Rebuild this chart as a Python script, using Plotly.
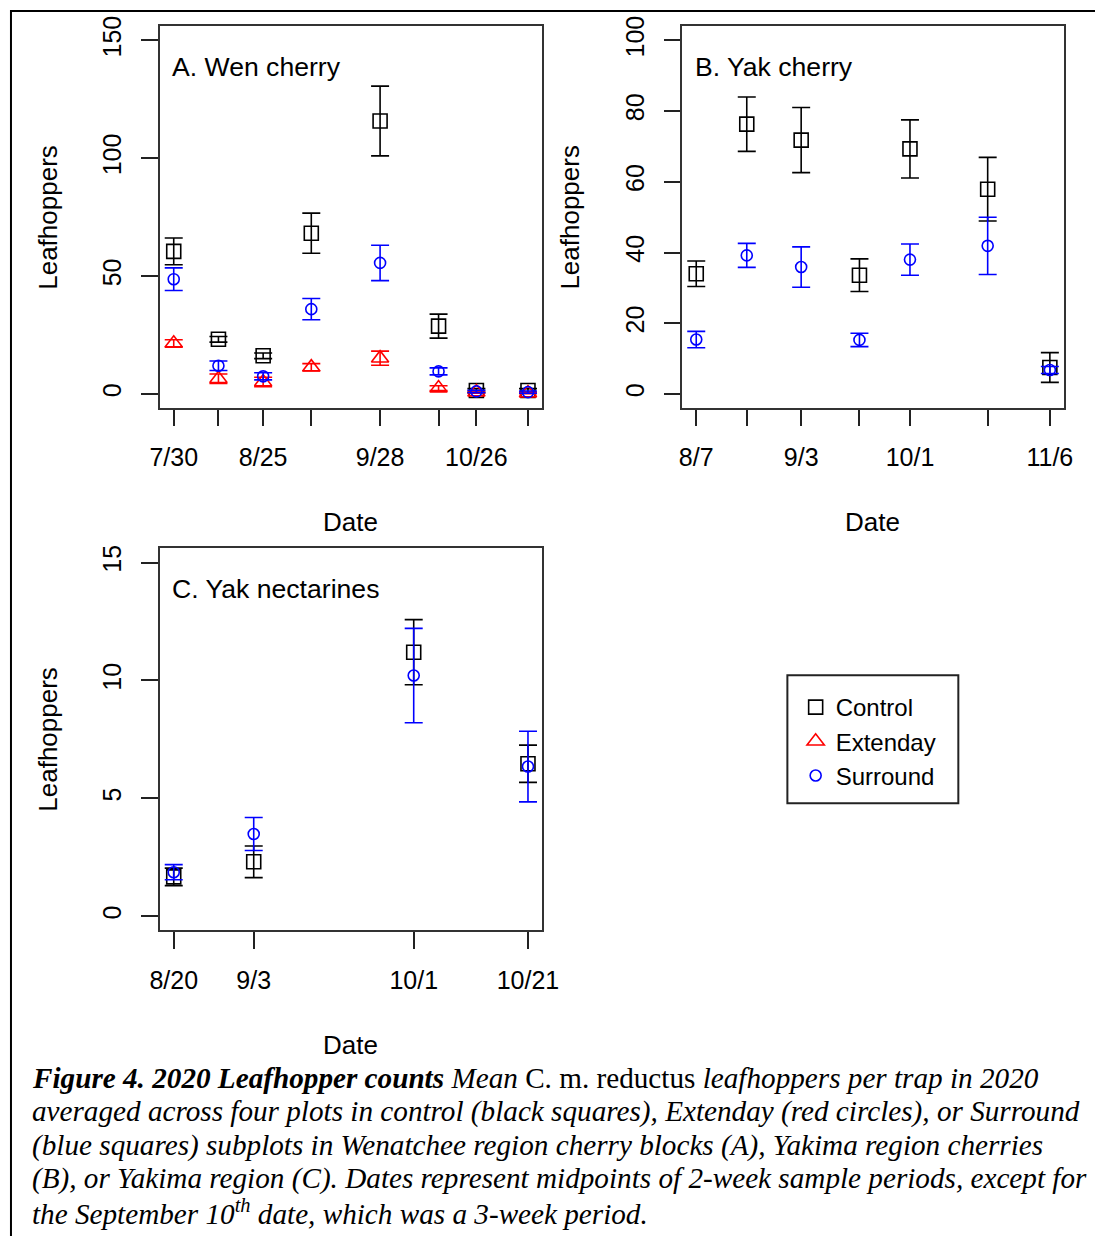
import plotly.graph_objects as go
import pandas as pd

# ---------------- data ----------------
# Panel A: Wenatchee cherry
a_dates = ["2020-07-30", "2020-08-12", "2020-08-25", "2020-09-08",
           "2020-09-28", "2020-10-15", "2020-10-26", "2020-11-10"]
a_label_dates = ["2020-07-30", "2020-08-25", "2020-09-28", "2020-10-26"]
a_labels = ["7/30", "8/25", "9/28", "10/26"]
a_control = [60.5, 23.2, 16.2, 68.2, 115.8, 28.8, 1.5, 1.5]
a_control_se = [5.7, 1.2, 1.2, 8.5, 14.8, 5.1, 0.8, 0.8]
a_extenday = [21.5, 6.5, 5.1, 11.4, 15.2, 2.5, 0.8, 0.4]
a_extenday_se = [1.5, 2.0, 2.0, 1.5, 3.0, 1.0, 0.5, 0.3]
a_surround = [48.7, 12.0, 7.5, 36.0, 55.6, 9.6, 1.1, 0.8]
a_surround_se = [4.8, 2.0, 1.5, 4.5, 7.5, 1.5, 0.5, 0.5]
a_ylim = [0, 150]
a_yticks = [0, 50, 100, 150]

# Panel B: Yakima cherry
b_dates = ["2020-08-07", "2020-08-20", "2020-09-03", "2020-09-18",
           "2020-10-01", "2020-10-21", "2020-11-06"]
b_label_dates = ["2020-08-07", "2020-09-03", "2020-10-01", "2020-11-06"]
b_labels = ["8/7", "9/3", "10/1", "11/6"]
b_control = [34.0, 76.3, 71.8, 33.6, 69.3, 57.9, 7.5]
b_control_se = [3.6, 7.7, 9.2, 4.6, 8.2, 9.0, 4.2]
b_surround = [15.4, 39.2, 35.9, 15.3, 38.0, 41.9, 6.8]
b_surround_se = [2.3, 3.4, 5.7, 1.9, 4.4, 8.1, 1.0]
b_ylim = [0, 100]
b_yticks = [0, 20, 40, 60, 80, 100]

# Panel C: Yakima nectarines
c_dates = ["2020-08-20", "2020-09-03", "2020-10-01", "2020-10-21"]
c_label_dates = ["2020-08-20", "2020-09-03", "2020-10-01", "2020-10-21"]
c_labels = ["8/20", "9/3", "10/1", "10/21"]
c_control = [1.67, 2.31, 11.2, 6.47]
c_control_se = [0.37, 0.67, 1.38, 0.79]
c_surround = [1.87, 3.49, 10.21, 6.35]
c_surround_se = [0.32, 0.70, 2.0, 1.5]
c_ylim = [0, 15]
c_yticks = [0, 5, 10, 15]

panel_titles = ["A. Wen cherry", "B. Yak cherry", "C. Yak nectarines"]

caption_lines = [
    "<b><i>Figure 4. 2020 Leafhopper counts</i></b><i> Mean </i>C. m. reductus<i> leafhoppers per trap in 2020</i>",
    "<i>averaged across four plots in control (black squares), Extenday (red circles), or Surround</i>",
    "<i>(blue squares) subplots in Wenatchee region cherry blocks (A), Yakima region cherries</i>",
    "<i>(B), or Yakima region (C). Dates represent midpoints of 2-week sample periods, except for</i>",
    "<i>the September 10<sup>th</sup> date, which was a 3-week period.</i>",
]

# ---------------- styling / geometry ----------------
W, H = 1112, 1236
FONT = "Liberation Sans, Arial, sans-serif"
SERIF = "Liberation Serif, Times New Roman, serif"
styles = {
    "Control": dict(color="black", symbol="square-open", size=14),
    "Extenday": dict(color="red", symbol="triangle-up-open", size=15),
    "Surround": dict(color="blue", symbol="circle-open", size=11),
}

# map target picture pixels to figure pixels (calibrated to the renderer)
SX, OX, SY, OY = 0.976, 9.4, 0.992, 9.8


def fx(v):  # target x pixel -> paper fraction
    return max(0.0, min(1.0, ((v - OX) / SX) / W))


def fy(v):  # target y pixel (from top) -> paper fraction
    return max(0.0, min(1.0, 1 - ((v - OY) / SY) / H))


def xrange_for(dates):
    d = pd.to_datetime(pd.Series(dates))
    span = d.max() - d.min()
    lo = d.min() - 0.04 * span
    hi = d.max() + 0.04 * span
    return [lo.strftime("%Y-%m-%d %H:%M:%S"), hi.strftime("%Y-%m-%d %H:%M:%S")]


def yrange_for(lim):
    span = lim[1] - lim[0]
    return [lim[0] - 0.04 * span, lim[1] + 0.04 * span]


fig = go.Figure()


def add_series(name, dates, vals, se, axis_id, show):
    st = styles[name]
    fig.add_trace(go.Scatter(
        x=dates, y=vals, mode="markers", name=name,
        xaxis="x" + axis_id, yaxis="y" + axis_id,
        showlegend=show, legendgroup=name,
        marker=dict(symbol=st["symbol"], size=st["size"], color=st["color"],
                    line=dict(color=st["color"], width=1.6)),
        error_y=dict(type="data", array=se, visible=True, color=st["color"],
                     thickness=1.6, width=9),
        cliponaxis=False,
    ))


add_series("Control", a_dates, a_control, a_control_se, "", True)
add_series("Extenday", a_dates, a_extenday, a_extenday_se, "", True)
add_series("Surround", a_dates, a_surround, a_surround_se, "", True)
add_series("Control", b_dates, b_control, b_control_se, "2", False)
add_series("Surround", b_dates, b_surround, b_surround_se, "2", False)
add_series("Control", c_dates, c_control, c_control_se, "3", False)
add_series("Surround", c_dates, c_surround, c_surround_se, "3", False)

TL = 16.3
common_axis = dict(
    showline=True, mirror=True, linecolor="#333333", linewidth=2,
    ticks="outside", ticklen=TL, tickwidth=1.5, tickcolor="#222222",
    showgrid=False, zeroline=False,
    tickfont=dict(family=FONT, size=25, color="black"),
)

# (axis id, dates, label dates, labels, ylim, yticks, box x (target px), box y (target px),
#  title pos, ylabel pos, xlabel pos)
panels = [
    ("", a_dates, a_label_dates, a_labels, a_ylim, a_yticks, (159, 541.7), (26, 408),
     (169, 66.7), (48, 217), (350, 522)),
    ("2", b_dates, b_label_dates, b_labels, b_ylim, b_yticks, (681.7, 1063.7), (26, 408),
     (692.5, 66.7), (570, 217), (872, 522)),
    ("3", c_dates, c_label_dates, c_labels, c_ylim, c_yticks, (159, 541.7), (548.3, 930.3),
     (169.5, 589), (48, 739), (350, 1045)),
]

layout = dict(
    width=W, height=H, margin=dict(l=0, r=0, t=0, b=0), autosize=False,
    paper_bgcolor="white", plot_bgcolor="white",
    font=dict(family=FONT, size=25, color="black"),
    showlegend=True,
    legend=dict(x=805.2 / W, y=1 - 680.5 / H, xanchor="left", yanchor="top",
                bgcolor="rgba(0,0,0,0)", borderwidth=0,
                font=dict(family=FONT, size=24, color="black"),
                tracegroupgap=0, itemsizing="trace"),
)

annotations = []
for i, (aid, dates, ldates, labels, ylim, yticks, (x0, x1), (y0, y1),
        tpos, ylpos, xlpos) in enumerate(panels):
    xa = dict(common_axis)
    xa.update(type="date", domain=[fx(x0), fx(x1)], range=xrange_for(dates),
              tickmode="array", tickvals=ldates, ticktext=labels,
              minor=dict(tickvals=dates, ticks="outside", ticklen=TL, tickwidth=1.5,
                         tickcolor="#222222", showgrid=False),
              anchor="y" + aid, ticklabelstandoff=10)
    ya = dict(common_axis)
    ya.update(domain=[fy(y1), fy(y0)], range=yrange_for(ylim),
              tickmode="array", tickvals=yticks, ticktext=[str(v) for v in yticks],
              tickangle=-90, anchor="x" + aid, ticklabelstandoff=10)
    layout["xaxis" + aid] = xa
    layout["yaxis" + aid] = ya
    annotations.append(dict(text=panel_titles[i], xref="paper", yref="paper",
                            x=fx(tpos[0]), y=fy(tpos[1]), xanchor="left",
                            yanchor="middle", showarrow=False,
                            font=dict(family=FONT, size=26.6, color="black")))
    annotations.append(dict(text="Leafhoppers", xref="paper", yref="paper",
                            x=fx(ylpos[0]), y=fy(ylpos[1]), textangle=-90,
                            xanchor="center", yanchor="middle", showarrow=False,
                            font=dict(family=FONT, size=26, color="black")))
    annotations.append(dict(text="Date", xref="paper", yref="paper",
                            x=fx(xlpos[0]), y=fy(xlpos[1]),
                            xanchor="center", yanchor="middle", showarrow=False,
                            font=dict(family=FONT, size=26, color="black")))

cap_y = [1078, 1111.5, 1145, 1178.5, 1212]
for line, yc in zip(caption_lines, cap_y):
    annotations.append(dict(text=line, xref="paper", yref="paper",
                            x=fx(29), y=fy(yc), xanchor="left", yanchor="middle",
                            showarrow=False, align="left",
                            font=dict(family=SERIF, size=29.2, color="black")))

layout["annotations"] = annotations
layout["shapes"] = [
    # outer frame (top and left edges)
    dict(type="line", xref="paper", yref="paper", x0=fx(10), x1=1, y0=1 - 1 / H, y1=1 - 1 / H,
         line=dict(color="black", width=2)),
    dict(type="line", xref="paper", yref="paper", x0=1 / W, x1=1 / W, y0=1, y1=0,
         line=dict(color="black", width=2)),
    # legend frame
    dict(type="rect", xref="paper", yref="paper", x0=fx(787), x1=fx(958),
         y0=fy(803), y1=fy(675), line=dict(color="#222222", width=2)),
]

fig.update_layout(**layout)
fig.write_html("out.html")
